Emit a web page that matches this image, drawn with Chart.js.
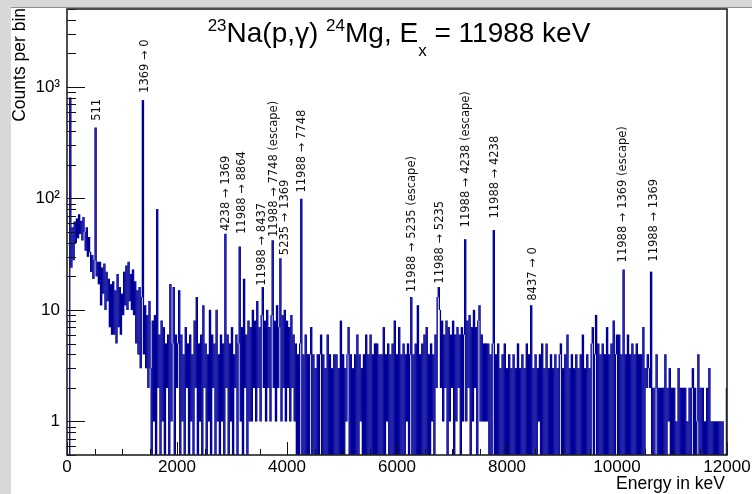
<!DOCTYPE html>
<html>
<head>
<meta charset="utf-8">
<title>23Na(p,g)24Mg spectrum</title>
<script src="https://cdn.jsdelivr.net/npm/chart.js@4/dist/chart.umd.min.js"></script>
<style>
    html, body { margin: 0; padding: 0; background: #d8d8d8; overflow: hidden; }
    #wrap { position: absolute; left: 11px; top: 7px; width: 741px; height: 486px; background: #fff; border-top: 1px solid #8e8e8e; }
    canvas { display: block; }
</style>
</head>
<body>
<div id="wrap"><canvas id="spectrum" width="741" height="486"></canvas></div>
<script>
// histogram: 20 keV per bin, counts (0 = empty bin)
const binWidth = 20;
const counts = [
    0, 0, 800, 24, 55, 28, 62, 40, 66, 44, 72, 48, 63, 42, 68, 50, 34, 55, 30, 45,      // 0-400
    33, 22, 31, 19, 28, 432, 20, 27, 17, 27, 11, 24, 14, 26, 10, 22, 12, 19, 7, 17,     // 400-800
    6, 18, 6, 15, 5, 21, 7, 16, 6, 14, 9, 22, 11, 25, 10, 27, 12, 21, 10, 23,           // 800-1200
    9, 18, 5, 15, 4, 16, 3, 13, 760, 4, 11, 3, 9, 2, 12, 3, 0, 8, 1, 9,                 // 1200-1600
    0, 80, 2, 6, 0, 8, 1, 7, 0, 5, 2, 6, 0, 17, 1, 5, 16, 0, 6, 2,                      // 1600-2000
    5, 15, 0, 6, 1, 4, 0, 7, 2, 5, 0, 6, 1, 4, 0, 8, 2, 13, 0, 5,                       // 2000-2400
    1, 6, 0, 11, 2, 5, 0, 4, 1, 10, 0, 6, 2, 5, 0, 10, 1, 4, 0, 6,                      // 2400-2800
    1, 5, 0, 48, 2, 6, 0, 5, 1, 7, 0, 4, 2, 6, 0, 5, 37, 1, 7, 0,                       // 2800-3200
    19, 2, 6, 0, 8, 1, 7, 1, 10, 2, 8, 1, 12, 2, 7, 1, 9, 16, 2, 8,                     // 3200-3600
    1, 10, 2, 7, 1, 9, 42, 2, 8, 1, 11, 2, 7, 29, 1, 9, 2, 10, 1, 8,                    // 3600-4000
    2, 7, 1, 9, 2, 6, 1, 5, 0, 4, 0, 5, 99, 0, 4, 0, 6, 0, 4, 0,                        // 4000-4400
    4, 7, 0, 4, 0, 3, 0, 4, 0, 4, 6, 0, 4, 0, 3, 0, 6, 0, 4, 0,                         // 4400-4800
    3, 0, 4, 0, 4, 0, 3, 0, 8, 0, 4, 0, 3, 1, 4, 7, 0, 4, 0, 3,                         // 4800-5200
    0, 4, 0, 6, 0, 4, 1, 3, 0, 4, 0, 6, 0, 4, 0, 6, 0, 4, 0, 5,                         // 5200-5600
    0, 5, 0, 4, 0, 4, 0, 7, 0, 4, 1, 5, 0, 4, 0, 5, 0, 8, 0, 4,                         // 5600-6000
    0, 7, 0, 4, 0, 5, 0, 4, 1, 5, 0, 4, 13, 0, 4, 0, 5, 0, 11, 0,                       // 6000-6400
    4, 0, 5, 0, 6, 0, 7, 0, 4, 0, 5, 1, 4, 0, 6, 2, 13, 16, 10, 2,                      // 6400-6800
    8, 1, 6, 2, 8, 0, 7, 1, 6, 2, 8, 0, 6, 1, 7, 2, 6, 0, 7, 1,                         // 6800-7200
    6, 43, 1, 8, 2, 9, 0, 7, 1, 10, 2, 7, 0, 8, 11, 1, 6, 1, 5, 1,                      // 7200-7600
    5, 1, 5, 0, 4, 0, 5, 52, 0, 4, 0, 5, 0, 3, 0, 4, 0, 5, 0, 3,                        // 7600-8000
    0, 4, 0, 3, 0, 4, 0, 3, 0, 5, 0, 3, 0, 4, 0, 3, 0, 5, 0, 4,                         // 8000-8400
    0, 11, 0, 3, 0, 4, 0, 3, 1, 4, 0, 5, 0, 3, 0, 5, 0, 3, 0, 4,                        // 8400-8800
    0, 3, 0, 4, 0, 3, 0, 4, 5, 0, 3, 0, 4, 0, 6, 0, 3, 0, 4, 0,                         // 8800-9200
    3, 0, 4, 0, 3, 0, 4, 0, 6, 0, 3, 0, 4, 0, 3, 0, 5, 7, 0, 4,                         // 9200-9600
    9, 0, 5, 0, 4, 0, 5, 0, 4, 0, 7, 0, 4, 0, 5, 0, 8, 0, 4, 6,                         // 9600-10000
    0, 6, 0, 4, 0, 23, 0, 4, 0, 6, 0, 4, 0, 5, 0, 4, 0, 5, 0, 4,                        // 10000-10400
    0, 4, 0, 7, 0, 3, 2, 4, 3, 2, 22, 0, 2, 0, 2, 4, 0, 2, 0, 2,                        // 10400-10800
    0, 2, 0, 4, 0, 2, 1, 3, 0, 2, 0, 2, 0, 1, 0, 3, 0, 2, 0, 2,                         // 10800-11200
    0, 2, 0, 1, 0, 2, 0, 2, 3, 0, 2, 0, 1, 4, 0, 2, 0, 2, 0, 1,                         // 11200-11600
    0, 2, 0, 3, 0, 1, 0, 1, 0, 1, 0, 1, 0, 1, 0, 1, 0, 0, 0, 2                          // 11600-12000
];

const xTickLabels = [0, 2000, 4000, 6000, 8000, 10000, 12000];
const yTickLabels = [1, 10, 100, 1000];

// peak annotations, anchored at (energy, counts) where the text starts
const peakLabels = ['511', '1369 → 0', '4238 → 1369', '11988 → 8864', '11988 → 8437',
    '11988 → 7748 (escape)', '5235 → 1369', '11988 → 7748', '11988 → 5235 (escape)',
    '11988 → 5235', '11988 → 4238 (escape)', '11988 → 4238', '8437 → 0',
    '11988 → 1369 (escape)', '11988 → 1369'];
const peakLabelEnergy = [551, 1418, 2891, 3176, 3540, 3764, 3964, 4278, 6278, 6782, 7255, 7782, 8478, 10115, 10673];
const peakLabelCount = [497, 884, 51, 48, 16.5, 45, 31, 113, 14.4, 17.2, 55, 66, 12.1, 26.7, 27.1];

const xMin = 0, xMax = 12000, yMin = 0.5, yMax = 5000;
const sans = '"Liberation Sans", Arial, Helvetica, sans-serif';

// ROOT's step outline: each bin runs from the previous bin's level to its own,
// empty bins sit on the axis floor
const floorOf = c => (c > 0 ? c : yMin);
const outline = counts.map((c, i) => {
    const prev = floorOf(i ? counts[i - 1] : 0);
    const cur = floorOf(c);
    return { x: i * binWidth + binWidth / 2, y: [Math.min(prev, cur), Math.max(prev, cur)] };
});

function yLabel(v) {
    if (v === 1000) return '10³';
    if (v === 100) return '10²';
    if (v === 10) return '10';
    if (v === 1) return '1';
    return '';
}

// frame + inward ticks like a ROOT TFrame
const rootFrame = {
    id: 'rootFrame',
    afterDatasetsDraw(chart) {
        const { ctx, chartArea: a, scales: { x, y } } = chart;
        ctx.save();
        ctx.strokeStyle = '#111';
        ctx.lineWidth = 1;
        ctx.beginPath();
        for (let e = xMin; e <= xMax; e += 500) {
            const px = Math.round(x.getPixelForValue(e)) + 0.5;
            const len = e % 2000 === 0 ? 13 : 6;
            ctx.moveTo(px, a.bottom);
            ctx.lineTo(px, a.bottom - len);
        }
        for (let d = 0.1; d < yMax; d *= 10) {
            for (let m = 1; m <= 9; m++) {
                const v = d * m;
                if (v < yMin || v > yMax) continue;
                const py = Math.round(y.getPixelForValue(v)) + 0.5;
                ctx.moveTo(a.left, py);
                ctx.lineTo(a.left + (m === 1 ? 18 : 9), py);
            }
        }
        ctx.stroke();
        ctx.lineWidth = 1.6;
        ctx.strokeStyle = '#222';
        ctx.strokeRect(a.left, a.top, a.right - a.left, a.bottom - a.top);
        ctx.restore();
    }
};

const peakNotes = {
    id: 'peakNotes',
    afterDatasetsDraw(chart) {
        const { ctx, scales: { x, y } } = chart;
        ctx.save();
        ctx.font = '11.5px "DejaVu Sans"';
        ctx.fillStyle = '#111';
        ctx.textAlign = 'left';
        ctx.textBaseline = 'middle';
        peakLabels.forEach((t, i) => {
            ctx.save();
            ctx.translate(x.getPixelForValue(peakLabelEnergy[i]), y.getPixelForValue(peakLabelCount[i]));
            ctx.rotate(-Math.PI / 2);
            ctx.fillText(t, 0, 0);
            ctx.restore();
        });
        ctx.restore();
    }
};

// title with super/subscripts, axis titles
const texts = {
    id: 'texts',
    afterDraw(chart) {
        const { ctx, chartArea: a } = chart;
        const big = '28px ' + sans, small = '17px ' + sans;
        const parts = [
            { t: '23', f: small, dy: -11 },
            { t: 'Na(p,γ) ', f: big, dy: 0 },
            { t: '24', f: small, dy: -11 },
            { t: 'Mg, E', f: big, dy: 0 },
            { t: 'x', f: small, dy: 14 },
            { t: ' = 11988 keV', f: big, dy: 0 }
        ];
        ctx.save();
        ctx.fillStyle = '#000';
        ctx.textBaseline = 'alphabetic';
        ctx.textAlign = 'left';
        let w = 0;
        parts.forEach(p => { ctx.font = p.f; p.w = ctx.measureText(p.t).width; w += p.w; });
        let cx = 388 - w / 2;
        parts.forEach(p => { ctx.font = p.f; ctx.fillText(p.t, cx, 34 + p.dy); cx += p.w; });

        ctx.font = '17.5px ' + sans;
        ctx.textAlign = 'right';
        ctx.fillText('Energy in keV', a.right - 2, 481);
        ctx.translate(14, 0);
        ctx.rotate(-Math.PI / 2);
        ctx.fillText('Counts per bin', 0, 0);
        ctx.restore();
    }
};

const ctx = document.getElementById('spectrum').getContext('2d');
const chart = new Chart(ctx, {
    type: 'bar',
    data: {
        datasets: [{
            data: outline,
            backgroundColor: '#000099',
            borderWidth: 0,
            barPercentage: 1,
            categoryPercentage: 1,
            inflateAmount: 0.12,
            minBarLength: 1
        }]
    },
    options: {
        responsive: false,
        animation: false,
        events: [],
        layout: { padding: { left: 0, right: 25, top: 1, bottom: 0 } },
        scales: {
            x: {
                type: 'linear',
                offset: false,
                min: xMin,
                max: xMax,
                grid: { display: false, drawTicks: false },
                border: { display: false },
                afterBuildTicks: s => { s.ticks = xTickLabels.map(v => ({ value: v })); },
                afterFit: s => { s.height = 39; s.paddingLeft = 0; s.paddingRight = 0; },
                ticks: {
                    autoSkip: false,
                    maxRotation: 0,
                    padding: 2,
                    color: '#000',
                    font: { family: sans, size: 17 },
                    callback: v => String(v)
                }
            },
            y: {
                type: 'logarithmic',
                min: yMin,
                max: yMax,
                grid: { display: false, drawTicks: false },
                border: { display: false },
                afterBuildTicks: s => { s.ticks = yTickLabels.map(v => ({ value: v, major: true })); },
                afterFit: s => { s.width = 56; s.paddingTop = 0; s.paddingBottom = 0; },
                ticks: {
                    padding: 7,
                    color: '#000',
                    font: { family: sans, size: 17 },
                    callback: v => yLabel(v)
                }
            }
        },
        plugins: {
            legend: { display: false },
            tooltip: { enabled: false },
            title: { display: false }
        }
    },
    plugins: [rootFrame, peakNotes, texts]
});
</script>
</body>
</html>
